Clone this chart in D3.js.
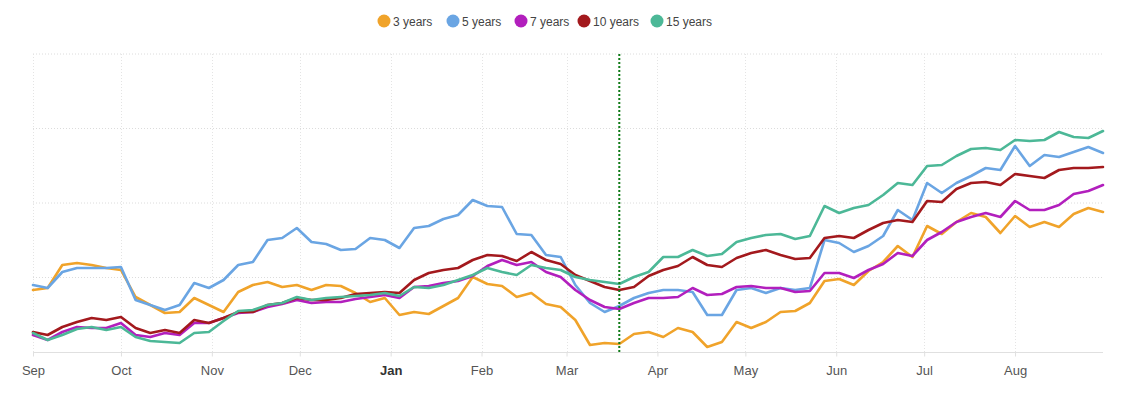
<!DOCTYPE html>
<html><head><meta charset="utf-8">
<script src="https://cdn.jsdelivr.net/npm/d3@7/dist/d3.min.js"></script>
<style>
body{margin:0;background:#fff;font-family:"Liberation Sans",Arial,sans-serif;}
</style></head>
<body><svg id="c" width="1121" height="393"></svg>
<script>
const dates = ["2019-09-01","2019-09-06","2019-09-11","2019-09-16","2019-09-21","2019-09-26","2019-10-01","2019-10-06","2019-10-11","2019-10-16","2019-10-21","2019-10-26","2019-10-31","2019-11-05","2019-11-10","2019-11-15","2019-11-20","2019-11-25","2019-11-30","2019-12-05","2019-12-10","2019-12-15","2019-12-20","2019-12-25","2019-12-30","2020-01-04","2020-01-09","2020-01-14","2020-01-19","2020-01-24","2020-01-29","2020-02-03","2020-02-08","2020-02-13","2020-02-18","2020-02-23","2020-02-28","2020-03-04","2020-03-09","2020-03-14","2020-03-19","2020-03-24","2020-03-29","2020-04-03","2020-04-08","2020-04-13","2020-04-18","2020-04-23","2020-04-28","2020-05-03","2020-05-08","2020-05-13","2020-05-18","2020-05-23","2020-05-28","2020-06-02","2020-06-07","2020-06-12","2020-06-17","2020-06-22","2020-06-27","2020-07-02","2020-07-07","2020-07-12","2020-07-17","2020-07-22","2020-07-27","2020-08-01","2020-08-06","2020-08-11","2020-08-16","2020-08-21","2020-08-26","2020-08-31"];

const years3 = [62,64,87,89,87,84,82,55,47,39,40,54,47,40,60,67,70,65,67,62,67,66,59,50,54,37,40,38,46,54,75,68,66,55,59,48,45,32,7,9,8,18,20,15,24,20,5,10,30,24,30,40,41,49,71,73,67,81,90,106,95,126,118,130,139,135,119,136,125,130,125,138,144,140];
const years5 = [67,64,80,84,84,84,85,52,47,42,47,69,64,72,87,90,112,114,124,110,108,102,103,114,112,104,124,126,133,137,152,146,145,118,117,97,95,67,49,40,46,54,59,62,62,60,37,37,62,64,59,64,62,64,112,109,100,106,116,142,132,169,159,169,176,184,182,206,186,197,195,200,205,199];
const years7 = [17,12,20,25,24,24,29,17,15,19,17,29,29,34,39,40,45,48,52,49,50,50,53,55,57,54,65,66,69,71,76,86,92,87,90,80,75,62,52,45,43,49,54,54,55,64,57,58,65,66,64,64,60,61,79,79,74,82,88,99,96,112,120,130,135,139,135,151,142,142,147,158,161,167];
const years10 = [20,17,25,30,34,32,35,24,19,22,19,32,29,34,40,40,47,49,54,52,52,54,58,59,60,59,72,79,82,84,92,97,96,91,100,92,88,77,71,65,62,65,76,82,86,95,87,85,94,99,102,97,93,94,114,116,114,122,129,132,130,151,150,163,169,170,167,178,176,174,182,184,184,185];
const years15 = [19,12,17,23,25,22,25,15,11,10,9,19,20,31,41,42,47,49,55,52,54,55,56,57,59,56,65,64,67,72,77,84,80,77,87,84,82,75,72,70,68,75,80,95,95,102,96,98,110,114,117,118,113,116,146,139,144,147,157,169,167,186,187,196,203,204,202,212,211,212,220,215,214,221];

const seriesNames = ["3 years","5 years","7 years","10 years","15 years"];
const seriesColors = ["#f0a32a","#6aa5e3","#b21fbd","#a3191d","#4cb897"];
const seriesValues = [years3, years5, years7, years10, years15];

const monthTicks = ["2019-09-01","2019-10-01","2019-11-01","2019-12-01","2020-01-01","2020-02-01","2020-03-01","2020-04-01","2020-05-01","2020-06-01","2020-07-01","2020-08-01"];
const monthLabels = ["Sep","Oct","Nov","Dec","Jan","Feb","Mar","Apr","May","Jun","Jul","Aug"];
const yGrid = [0, 74.5, 149, 223.5, 298];
const markerDate = "2020-03-19";
const xDomain = ["2019-09-01","2020-08-31"];

const parse = d3.timeParse("%Y-%m-%d");
const svg = d3.select("#c");
const x = d3.scaleTime().domain(xDomain.map(parse)).range([33, 1103]);
const y = d3.scaleLinear().domain([0, 298]).range([352, 54]);

// horizontal grid
svg.append("g").selectAll("line").data(yGrid.slice(1)).join("line")
  .attr("x1", 33).attr("x2", 1103)
  .attr("y1", d => y(d)).attr("y2", d => y(d))
  .attr("stroke", "#dcdcdc").attr("stroke-width", 1).attr("stroke-dasharray", "1,2");

// vertical grid
svg.append("g").selectAll("line").data(monthTicks).join("line")
  .attr("x1", d => Math.round(x(parse(d))) + 0.5).attr("x2", d => Math.round(x(parse(d))) + 0.5)
  .attr("y1", 54).attr("y2", 352)
  .attr("stroke", "#e4e4e4").attr("stroke-width", 1).attr("stroke-dasharray", "1,2");

// x axis
const xAxis = d3.axisBottom(x)
  .tickValues(monthTicks.map(parse))
  .tickSize(4)
  .tickPadding(9)
  .tickFormat((d, i) => monthLabels[i]);
const ax = svg.append("g").attr("transform", "translate(0,352.5)").call(xAxis);
ax.select(".domain").attr("stroke", "#e0e0e0").attr("d", "M33,0H1103");
ax.selectAll(".tick line").attr("stroke", "#e0e0e0");
ax.selectAll(".tick text")
  .attr("fill", "#555").attr("font-size", 13)
  .attr("font-family", "'Liberation Sans', Arial, sans-serif")
  .attr("font-weight", (d, i) => monthLabels[i] === "Jan" ? "bold" : "normal")
  .attr("fill", (d, i) => monthLabels[i] === "Jan" ? "#333" : "#555");

// lines
const line = d3.line().x((d, i) => x(parse(dates[i]))).y(d => y(d));
svg.append("g").selectAll("path").data(seriesValues).join("path")
  .attr("d", d => line(d))
  .attr("fill", "none")
  .attr("stroke", (d, i) => seriesColors[i])
  .attr("stroke-width", 2.6)
  .attr("stroke-linejoin", "round")
  .attr("stroke-linecap", "round");

// marker line
svg.append("line")
  .attr("x1", x(parse(markerDate))).attr("x2", x(parse(markerDate)))
  .attr("y1", 54).attr("y2", 352)
  .attr("stroke", "#0e7a16").attr("stroke-width", 2).attr("stroke-dasharray", "2,2");

// legend
const legendX = [384, 453, 521, 584, 657];
const lg = svg.append("g").selectAll("g").data(seriesNames).join("g")
  .attr("transform", (d, i) => `translate(${legendX[i]},21)`);
lg.append("circle").attr("r", 6.5).attr("fill", (d, i) => seriesColors[i]);
lg.append("text").attr("x", 9).attr("y", 4.5)
  .attr("font-size", 12).attr("fill", "#444")
  .attr("font-family", "'Liberation Sans', Arial, sans-serif")
  .text(d => d);
</script>
</body></html>
